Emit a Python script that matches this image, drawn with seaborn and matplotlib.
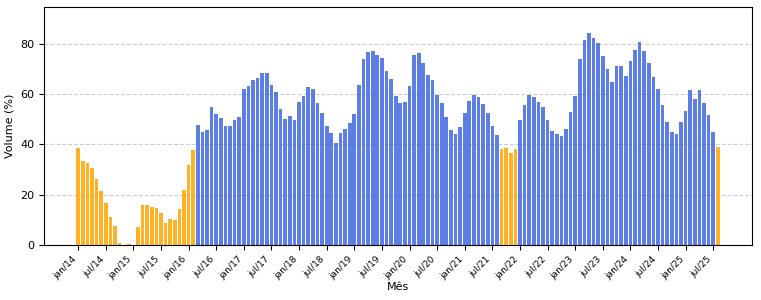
import pandas as pd
import seaborn as sns
import matplotlib.pyplot as plt

# meses (jan/14 ... ago/25)
meses_pt = ['jan', 'fev', 'mar', 'abr', 'mai', 'jun', 'jul', 'ago', 'set', 'out', 'nov', 'dez']
meses = [f'{m}/{a:02d}' for a in range(14, 26) for m in meses_pt][:140]

# volume (%)
volume = [
    38.4, 33.2, 32.4, 30.5, 26.2, 21.6, 16.8, 11.2, 7.3, 0.7, 0.0, 0.3,      # 2014
    0.0, 6.9, 15.8, 15.8, 15.1, 14.6, 12.8, 8.6, 10.4, 9.7, 14.2, 21.9,      # 2015
    31.9, 37.7, 47.7, 45.1, 45.9, 54.8, 52.0, 50.4, 47.3, 47.3, 49.6, 51.1,  # 2016
    62.1, 63.3, 65.5, 66.4, 68.4, 68.4, 63.6, 60.7, 53.9, 50.1, 51.3, 49.6,  # 2017
    56.9, 59.3, 62.7, 62.1, 56.3, 52.3, 47.2, 44.7, 40.7, 44.5, 46.1, 48.5,  # 2018
    52.0, 63.7, 74.1, 76.9, 77.2, 75.7, 74.4, 69.2, 65.9, 59.1, 56.3, 56.9,  # 2019
    63.3, 75.5, 76.5, 72.4, 67.7, 65.5, 59.7, 56.3, 50.8, 45.9, 44.3, 47.1,  # 2020
    52.5, 57.3, 59.6, 58.9, 55.9, 52.3, 47.3, 43.6, 38.3, 38.5, 36.7, 38.1,  # 2021
    49.6, 55.7, 59.6, 58.9, 56.9, 54.8, 49.6, 45.5, 44.3, 43.3, 46.3, 52.9,  # 2022
    59.3, 73.9, 81.6, 84.5, 82.4, 80.5, 75.2, 69.9, 64.7, 71.3, 71.1, 67.3,  # 2023
    73.2, 77.6, 80.9, 77.2, 72.4, 66.8, 61.9, 55.7, 48.9, 44.9, 44.0, 48.9,  # 2024
    53.3, 61.6, 58.1, 61.6, 56.3, 51.7, 44.9, 39.1,                          # 2025
]

limite = 40  # abaixo disso a barra fica laranja

df = pd.DataFrame({'Mes': meses, 'Volume': volume})
df['Faixa'] = ['baixo' if v < limite else 'normal' for v in df['Volume']]

cores = {'baixo': 'orange', 'normal': 'royalblue'}

fig = plt.figure(figsize=(7.61, 3.0), dpi=100)
ax = fig.add_axes([0.058, 0.184, 0.930, 0.792])

sns.barplot(data=df, x='Mes', y='Volume', hue='Faixa', palette=cores, order=meses,
            dodge=False, saturation=1, alpha=0.85, width=0.8, legend=False, ax=ax)

# margens no eixo x como no matplotlib padrão
n = len(meses)
pad = 0.05 * (n - 1 + 0.8)
ax.set_xlim(-0.4 - pad, n - 1 + 0.4 + pad)
ax.set_ylim(0, max(volume) * 1.12)

ticks = list(range(0, n, 6))
ax.set_xticks(ticks)
ax.set_xticklabels([meses[i] for i in ticks], rotation=45, ha='right', fontsize=6.5)
ax.set_yticks([0, 20, 40, 60, 80])
ax.tick_params(axis='y', labelsize=8)

ax.grid(axis='y', linestyle='--', alpha=0.6)
ax.set_axisbelow(True)

ax.set_xlabel('Mês', fontsize=8, labelpad=1)
ax.set_ylabel('Volume (%)', fontsize=8)

fig.savefig('out.png', dpi=100)
